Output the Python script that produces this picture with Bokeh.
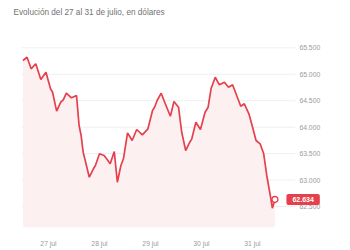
from bokeh.plotting import figure
from bokeh.models import Range1d, FixedTicker, Label, ColumnDataSource
from bokeh.embed import file_html
from bokeh.resources import INLINE
from bokeh.core.properties import value

# time in fractional days (27 = "27 jul" label position)
t = [26.50, 26.58, 26.66, 26.75, 26.85, 26.95, 27.04, 27.08, 27.16, 27.24,
     27.29, 27.35, 27.45, 27.55, 27.60, 27.64, 27.68, 27.73, 27.80, 27.88,
     27.92, 28.00, 28.09, 28.14, 28.21, 28.29, 28.35, 28.42, 28.47, 28.55,
     28.64, 28.73, 28.84, 28.95, 29.04, 29.08, 29.13, 29.21, 29.29, 29.39,
     29.46, 29.55, 29.61, 29.69, 29.77, 29.81, 29.89, 29.98, 30.07, 30.13,
     30.19, 30.27, 30.35, 30.45, 30.53, 30.61, 30.69, 30.77, 30.84, 30.93,
     31.01, 31.07, 31.15, 31.22, 31.28, 31.35, 31.39, 31.44]
price = [65260, 65322, 65103, 65198, 64901, 65039, 64725, 64661, 64302, 64472,
         64517, 64642, 64555, 64598, 64031, 63842, 63527, 63332, 63054, 63213,
         63275, 63497, 63464, 63402, 63308, 63540, 62960, 63275, 63402, 63893,
         63748, 63956, 63856, 63969, 64315, 64377, 64504, 64642, 64442, 64207,
         64485, 64377, 63918, 63559, 63716, 63780, 64094, 63956, 64283, 64377,
         64736, 64944, 64801, 64850, 64755, 64801, 64598, 64396, 64442, 64253,
         63969, 63748, 63686, 63497, 63087, 62708, 62468, 62634]

day_ticks = [27, 28, 29, 30, 31]
day_labels = ["27 jul", "28 jul", "29 jul", "30 jul", "31 jul"]
y_ticks = [62500, 63000, 63500, 64000, 64500, 65000, 65500]
y_labels = ["62.500", "63.000", "63.500", "64.000", "64.500", "65.000", "65.500"]
subtitle = "Evolución del 27 al 31 de julio, en dólares"
last_label = "62.634"

RED = "#e5404c"
FILL = "#fdf0f1"
GRID = "#efefef"
LABEL_GREY = "#9a9a9a"

X0, X1 = 26.059, 32.922          # full-width frame
Y0, Y1 = 62104, 66394
PLOT_L, PLOT_R = 26.47, 31.84    # visible plotting band (gridlines)
YLAB_X = 31.92

p = figure(width=350, height=250, output_backend="svg", toolbar_location=None,
           x_range=Range1d(X0, X1), y_range=Range1d(Y0, Y1),
           min_border_left=0, min_border_right=0, min_border_top=0,
           min_border_bottom=23)
p.outline_line_color = None
p.background_fill_color = "white"
p.border_fill_color = "white"
p.yaxis.visible = False
p.xgrid.grid_line_color = None
p.ygrid.grid_line_color = None

# horizontal gridlines
p.segment(x0=[PLOT_L] * len(y_ticks), x1=[PLOT_R] * len(y_ticks),
          y0=y_ticks, y1=y_ticks, line_color=GRID, line_width=1)

src = ColumnDataSource(dict(t=t, price=price, base=[Y0] * len(t)))
p.varea(x="t", y1="base", y2="price", source=src, fill_color=FILL, fill_alpha=1)
p.line(x="t", y="price", source=src, line_color=RED, line_width=1.7)
p.scatter(x=[t[-1]], y=[price[-1]], size=6, fill_color="white",
          line_color=RED, line_width=1.4)

# right-side value labels
p.text(x=[YLAB_X] * len(y_ticks), y=y_ticks, text=y_labels,
       text_font=value("Liberation Sans"), text_font_size="6.8px",
       text_color=LABEL_GREY, text_baseline="middle", text_align="left")

# x axis
xa = p.xaxis[0]
xa.ticker = FixedTicker(ticks=day_ticks)
xa.major_label_overrides = {k: v for k, v in zip(day_ticks, day_labels)}
xa.axis_line_color = None
xa.major_tick_line_color = None
xa.minor_tick_line_color = None
xa.major_label_text_font = "Liberation Sans"
xa.major_label_text_font_size = "6.8px"
xa.major_label_text_color = LABEL_GREY
xa.major_label_standoff = 6

# last value badge
badge = Label(x=t[-1], y=price[-1], text=last_label, x_offset=11.5, y_offset=0,
              text_baseline="middle", text_align="left",
              text_font="Liberation Sans", text_font_size="7px",
              text_font_style="bold", text_color="white",
              background_fill_color=RED, background_fill_alpha=1,
              padding=(6, 3), border_radius=2)
p.add_layout(badge)

# subtitle
sub = Label(x=26.314, y=66167, text=subtitle,
            text_font="Liberation Sans", text_font_size="8.2px",
            text_color="#727272", text_baseline="middle", text_align="left")
p.add_layout(sub)

open("out.html", "w").write(file_html(p, INLINE))
